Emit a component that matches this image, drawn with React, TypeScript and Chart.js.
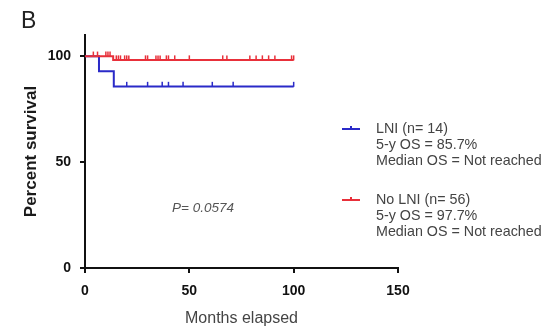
import React, { useEffect, useRef } from "react";
import { Chart, registerables } from "chart.js";

Chart.register(...registerables);

const xTicks = [0, 50, 100, 150];
const yTicks = [0, 50, 100];

const lniTimes = [0, 6.7, 13.8, 100];
const lniSurvival = [100, 92.86, 85.71, 85.71];
const lniCensorTimes = [20, 30, 37, 40, 47, 61, 71, 100];

const noLniTimes = [0, 13.5, 100];
const noLniSurvival = [100, 98.2, 98.2];
const noLniCensorTimes = [4, 6, 10, 11, 12, 15, 16, 17, 19, 20, 21, 29, 30, 34, 35, 36, 39, 40, 43, 50, 66, 68, 79, 82, 85, 88, 91, 99, 100];

const legendLni = ["LNI (n= 14)", "5-y OS = 85.7%", "Median OS = Not reached"];
const legendNoLni = ["No LNI (n= 56)", "5-y OS = 97.7%", "Median OS = Not reached"];
const pValueText = "P= 0.0574";
const panelLabel = "B";
const xTitle = "Months elapsed";
const yTitle = "Percent survival";

const BLUE = "#2a2ac8";
const RED = "#e8303a";
const FONT = "'Liberation Sans', Arial, sans-serif";

function survAt(times: number[], surv: number[], t: number) {
  let v = surv[0];
  for (let i = 0; i < times.length; i++) if (times[i] <= t) v = surv[i];
  return v;
}

export default function App() {
  const ref = useRef<HTMLCanvasElement | null>(null);
  useEffect(() => {
    document.body.style.margin = "0";
    const canvas = ref.current!;
    const overlay = {
      id: "overlay",
      afterDraw(chart: any) {
        const ctx = chart.ctx as CanvasRenderingContext2D;
        const area = chart.chartArea;
        ctx.save();
        ctx.fillStyle = "#222";
        ctx.font = `23px ${FONT}`;
        ctx.textBaseline = "middle";
        ctx.textAlign = "left";
        ctx.fillText(panelLabel, 21, 22);
        // y title
        ctx.save();
        ctx.translate(31, (area.top + area.bottom) / 2);
        ctx.rotate(-Math.PI / 2);
        ctx.textAlign = "center";
        ctx.font = `bold 17px ${FONT}`;
        ctx.fillStyle = "#1a1a1a";
        ctx.fillText(yTitle, 0, 0);
        ctx.restore();
        // x title
        ctx.textAlign = "center";
        ctx.font = `16px ${FONT}`;
        ctx.fillStyle = "#444";
        ctx.fillText(xTitle, (area.left + area.right) / 2, 319);
        // p value
        ctx.textAlign = "left";
        ctx.font = `italic 13.5px ${FONT}`;
        ctx.fillStyle = "#555";
        ctx.fillText(pValueText, 172, 208);
        // legend
        const groups = [
          { lines: legendLni, color: BLUE, y: 129 },
          { lines: legendNoLni, color: RED, y: 200 },
        ];
        ctx.font = `14.3px ${FONT}`;
        for (const g of groups) {
          ctx.strokeStyle = g.color;
          ctx.lineWidth = 2;
          ctx.beginPath();
          ctx.moveTo(342, g.y);
          ctx.lineTo(360, g.y);
          ctx.moveTo(351, g.y - 3);
          ctx.lineTo(351, g.y);
          ctx.stroke();
          ctx.fillStyle = "#444";
          g.lines.forEach((l, i) => ctx.fillText(l, 376, g.y + i * 16));
        }
        ctx.restore();
      },
    };
    const chart = new Chart(canvas, {
      type: "scatter",
      data: {
        datasets: [
          {
            data: noLniTimes.map((t, i) => ({ x: t, y: noLniSurvival[i] })),
            showLine: true,
            stepped: true,
            borderColor: RED,
            borderWidth: 2,
            pointRadius: 0,
          },
          {
            data: noLniCensorTimes.map((t) => ({ x: t, y: survAt(noLniTimes, noLniSurvival, t) + 1 })),
            showLine: false,
            pointStyle: "line",
            rotation: 90,
            pointRadius: 2.5,
            borderColor: RED,
            borderWidth: 1.5,
          },
          {
            data: lniTimes.map((t, i) => ({ x: t, y: lniSurvival[i] })),
            showLine: true,
            stepped: true,
            borderColor: BLUE,
            borderWidth: 2,
            pointRadius: 0,
          },
          {
            data: lniCensorTimes.map((t) => ({ x: t, y: survAt(lniTimes, lniSurvival, t) + 1 })),
            showLine: false,
            pointStyle: "line",
            rotation: 90,
            pointRadius: 2.5,
            borderColor: BLUE,
            borderWidth: 1.5,
          },
        ],
      },
      plugins: [overlay],
      options: {
        responsive: false,
        animation: false,
        layout: { padding: { top: 35, right: 153, left: 0, bottom: 0 } },
        plugins: { legend: { display: false }, tooltip: { enabled: false } },
        scales: {
          x: {
            type: "linear",
            min: 0,
            max: 150,
            afterBuildTicks: (s: any) => {
              s.ticks = xTicks.map((v) => ({ value: v }));
            },
            afterFit: (s: any) => {
              s.height = 62;
            },
            ticks: {
              color: "#111",
              font: { family: FONT, size: 14, weight: "bold" },
              padding: 10,
            },
            grid: { drawOnChartArea: false, drawTicks: true, tickLength: 5, color: "#111", lineWidth: 2 },
            border: { display: true, color: "#111", width: 2 },
          },
          y: {
            type: "linear",
            min: 0,
            max: 110,
            afterBuildTicks: (s: any) => {
              s.ticks = yTicks.map((v) => ({ value: v }));
            },
            afterFit: (s: any) => {
              s.width = 85;
            },
            ticks: {
              color: "#111",
              font: { family: FONT, size: 14, weight: "bold" },
              padding: 9,
            },
            grid: { drawOnChartArea: false, drawTicks: true, tickLength: 5, color: "#111", lineWidth: 2 },
            border: { display: true, color: "#111", width: 2 },
          },
        },
      },
    });
    return () => chart.destroy();
  }, []);
  return <canvas ref={ref} width={551} height={330} style={{ display: "block" }} />;
}
